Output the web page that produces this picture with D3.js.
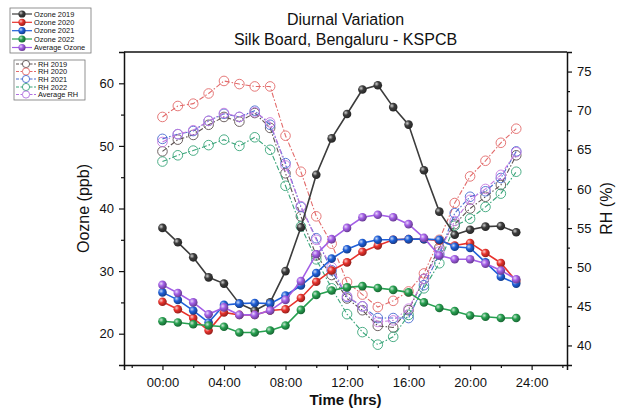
<!DOCTYPE html>
<html>
<head>
<meta charset="utf-8">
<script src="https://cdn.jsdelivr.net/npm/d3@7"></script>
<style>
  html, body { margin: 0; padding: 0; background: #fff; }
  #chart { width: 627px; height: 415px; }
  text { font-family: "Liberation Sans", Arial, sans-serif; fill: #111; }
  .tick text { font-size: 13px; }
</style>
</head>
<body>
<div id="chart"></div>
<script>
// ── data ─────────────────────────────────────────────
const hours = d3.range(0, 24);

const ozoneNames = ["Ozone 2019", "Ozone 2020", "Ozone 2021", "Ozone 2022", "Average Ozone"];
const ozone2019 = [36.9, 34.6, 32.2, 29.0, 28.0, 24.8, 23.7, 25.0, 30.0, 37.0, 45.4, 51.2, 55.1, 59.0, 59.7, 56.2, 53.4, 46.1, 39.5, 35.8, 36.6, 37.1, 37.2, 36.2];
const ozone2020 = [25.1, 23.9, 22.5, 20.5, 23.4, 23.0, 23.0, 23.7, 23.9, 25.7, 28.3, 30.1, 31.4, 33.1, 34.1, 35.0, 35.1, 35.1, 34.9, 34.1, 34.5, 32.9, 31.3, 28.4];
const ozone2021 = [26.6, 25.4, 23.7, 21.8, 24.6, 24.8, 24.9, 24.8, 26.1, 27.7, 29.7, 32.0, 33.5, 34.5, 35.0, 35.0, 35.1, 35.1, 35.0, 33.9, 33.7, 31.4, 29.1, 28.0];
const ozone2022 = [22.0, 21.8, 21.5, 21.3, 21.1, 20.2, 20.2, 20.5, 21.3, 23.8, 26.2, 26.9, 27.4, 27.6, 27.3, 27.0, 26.6, 25.0, 24.1, 23.6, 22.9, 22.7, 22.5, 22.5];
const ozoneAvg  = [27.8, 26.5, 25.0, 23.1, 24.2, 23.0, 23.0, 23.7, 25.4, 28.4, 32.7, 35.1, 36.9, 38.6, 39.0, 38.6, 37.5, 35.3, 32.5, 31.9, 31.9, 31.2, 30.1, 28.7];

const rhNames = ["RH 2019", "RH 2020", "RH 2021", "RH 2022", "Average RH"];
const rh2019 = [64.8, 66.3, 66.9, 68.2, 69.2, 68.6, 69.7, 67.8, 62.0, 56.5, 51.5, 49.0, 46.0, 44.5, 42.5, 42.3, 44.5, 48.5, 52.5, 55.5, 57.5, 59.0, 60.5, 64.3];
const rh2020 = [69.2, 70.6, 70.9, 72.2, 73.8, 73.4, 73.1, 73.1, 66.8, 62.2, 56.5, 53.0, 48.1, 46.5, 44.9, 45.7, 46.9, 49.2, 53.5, 58.2, 61.6, 63.6, 65.9, 67.7];
const rh2021 = [66.4, 67.0, 67.4, 68.7, 69.6, 69.2, 70.0, 68.2, 63.3, 57.7, 53.7, 49.6, 46.2, 45.0, 43.5, 43.5, 43.5, 47.7, 51.6, 56.9, 59.0, 59.7, 61.4, 64.8];
const rh2022 = [63.5, 64.3, 64.9, 65.6, 66.3, 65.5, 66.6, 65.0, 60.4, 55.2, 51.0, 47.3, 44.0, 41.7, 40.1, 41.1, 43.9, 47.3, 50.5, 55.3, 56.2, 57.7, 59.4, 62.2];
const rhAvg  = [66.0, 67.0, 67.5, 68.7, 69.7, 69.2, 69.8, 68.5, 63.0, 57.8, 53.5, 50.0, 46.3, 45.0, 43.0, 43.2, 44.7, 48.5, 52.0, 55.9, 58.6, 60.0, 61.8, 64.7];

const xTicks = [0, 4, 8, 12, 16, 20, 24];
const xTickLabels = ["00:00", "04:00", "08:00", "12:00", "16:00", "20:00", "24:00"];

// ── styling ──────────────────────────────────────────
const ozoneColors = ["#3c3c3c", "#e8322c", "#1f5fd8", "#27a050", "#a35ee6"];
const rhColors    = ["#5e5252", "#e26a6a", "#4a6cd0", "#3aa57a", "#c77ae0"];

const W = 627, H = 415;
const plot = { left: 124, right: 567, top: 52, bottom: 365 };

const svg = d3.select("#chart").append("svg")
  .attr("width", W).attr("height", H);

const defs = svg.append("defs");
ozoneColors.forEach((c, i) => {
  const g = defs.append("radialGradient")
    .attr("id", "ball" + i)
    .attr("cx", "35%").attr("cy", "35%").attr("r", "65%");
  g.append("stop").attr("offset", "0%").attr("stop-color", d3.interpolateRgb(c, "#fff")(0.75));
  g.append("stop").attr("offset", "45%").attr("stop-color", c);
  g.append("stop").attr("offset", "100%").attr("stop-color", d3.interpolateRgb(c, "#000")(0.35));
});

// ── scales ───────────────────────────────────────────
const x = d3.scaleLinear().domain([-2.5, 26.3]).range([plot.left, plot.right]);
const yO = d3.scaleLinear().domain([15, 65]).range([plot.bottom, plot.top]);
const yR = d3.scaleLinear().domain([37.5, 77.5]).range([plot.bottom, plot.top]);

// ── axes ─────────────────────────────────────────────
svg.append("g").attr("transform", `translate(0,${plot.bottom})`)
  .call(d3.axisBottom(x).tickValues(xTicks).tickFormat((d, i) => xTickLabels[i]).tickSize(5).tickPadding(8));
svg.append("g").attr("transform", `translate(0,${plot.bottom})`)
  .call(d3.axisBottom(x).tickValues(d3.range(-2, 27, 4)).tickFormat("").tickSize(3))
  .call(g => g.select(".domain").remove());

svg.append("g").attr("transform", `translate(${plot.left},0)`)
  .call(d3.axisLeft(yO).tickValues([20, 30, 40, 50, 60]).tickSize(5).tickPadding(5));
svg.append("g").attr("transform", `translate(${plot.left},0)`)
  .call(d3.axisLeft(yO).tickValues([25, 35, 45, 55]).tickFormat("").tickSize(3))
  .call(g => g.select(".domain").remove());

svg.append("g").attr("transform", `translate(${plot.right},0)`)
  .call(d3.axisRight(yR).tickValues(d3.range(40, 76, 5)).tickSize(5).tickPadding(5));
svg.append("g").attr("transform", `translate(${plot.right},0)`)
  .call(d3.axisRight(yR).tickValues(d3.range(42.5, 77, 5)).tickFormat("").tickSize(3))
  .call(g => g.select(".domain").remove());

svg.selectAll(".domain").attr("stroke", "#111").attr("stroke-width", 1.5);
svg.selectAll(".tick line").attr("stroke", "#111").attr("stroke-width", 1.2);

// top frame line
svg.append("line")
  .attr("x1", plot.left).attr("x2", plot.right)
  .attr("y1", plot.top).attr("y2", plot.top)
  .attr("stroke", "#111").attr("stroke-width", 1.5);

// ── labels ───────────────────────────────────────────
svg.append("text").attr("x", (plot.left + plot.right) / 2).attr("y", 25)
  .attr("text-anchor", "middle").attr("font-size", 16).text("Diurnal Variation");
svg.append("text").attr("x", (plot.left + plot.right) / 2).attr("y", 45)
  .attr("text-anchor", "middle").attr("font-size", 16).text("Silk Board, Bengaluru - KSPCB");

svg.append("text").attr("transform", `translate(89,${(plot.top + plot.bottom) / 2}) rotate(-90)`)
  .attr("text-anchor", "middle").attr("font-size", 16).text("Oozne (ppb)");
svg.append("text").attr("transform", `translate(612,${(plot.top + plot.bottom) / 2}) rotate(-90)`)
  .attr("text-anchor", "middle").attr("font-size", 16).text("RH (%)");
svg.append("text").attr("x", (plot.left + plot.right) / 2).attr("y", 405)
  .attr("text-anchor", "middle").attr("font-size", 15).attr("font-weight", "bold").attr("fill", "#222").text("Time (hrs)");

// ── series ───────────────────────────────────────────
const rhSeries = [rh2019, rh2020, rh2021, rh2022, rhAvg];
const ozSeries = [ozone2019, ozone2020, ozone2021, ozone2022, ozoneAvg];

const rhLine = d3.line().x((d, i) => x(hours[i])).y(d => yR(d));
const ozLine = d3.line().x((d, i) => x(hours[i])).y(d => yO(d));

rhSeries.forEach((s, k) => {
  const g = svg.append("g");
  g.append("path").datum(s).attr("d", rhLine)
    .attr("fill", "none").attr("stroke", rhColors[k]).attr("stroke-width", 1.1)
    .attr("stroke-dasharray", "5,2,1.5,2");
  g.selectAll("circle").data(s).join("circle")
    .attr("cx", (d, i) => x(hours[i])).attr("cy", d => yR(d)).attr("r", 4.8)
    .attr("fill", "none").attr("stroke", rhColors[k]).attr("stroke-width", 1).attr("stroke-opacity", 0.9);
});

ozSeries.forEach((s, k) => {
  const g = svg.append("g");
  g.append("path").datum(s).attr("d", ozLine)
    .attr("fill", "none").attr("stroke", ozoneColors[k]).attr("stroke-width", 1.6);
  g.selectAll("circle").data(s).join("circle")
    .attr("cx", (d, i) => x(hours[i])).attr("cy", d => yO(d)).attr("r", 4.3)
    .attr("fill", `url(#ball${k})`);
});

// ── legends ──────────────────────────────────────────
function legend(names, colors, x0, y0, w, h, rowY, filled) {
  const g = svg.append("g");
  g.append("rect").attr("x", x0).attr("y", y0).attr("width", w).attr("height", h)
    .attr("fill", "#fff").attr("stroke", "#777").attr("stroke-width", 0.8);
  names.forEach((n, i) => {
    const yy = rowY[i];
    g.append("line").attr("x1", x0 + 2).attr("x2", x0 + 22).attr("y1", yy).attr("y2", yy)
      .attr("stroke", colors[i]).attr("stroke-width", 1.2)
      .attr("stroke-dasharray", filled ? null : "3,1.5");
    g.append("circle").attr("cx", x0 + 12).attr("cy", yy).attr("r", 3.6)
      .attr("fill", filled ? `url(#ball${i})` : "#fff")
      .attr("stroke", filled ? "none" : colors[i]).attr("stroke-width", 0.9);
    g.append("text").attr("x", x0 + 24).attr("y", yy + 2.7)
      .attr("font-size", 7.4).attr("fill", "#222").text(n);
  });
}
legend(ozoneNames, ozoneColors, 10, 8, 81, 45, [14, 22.3, 30.7, 39, 47.5], true);
legend(rhNames, rhColors.map((c, i) => i === 4 ? "#b070e0" : c), 14, 60, 71, 40, [64, 71.5, 79, 87, 94.5], false);
</script>
</body>
</html>
